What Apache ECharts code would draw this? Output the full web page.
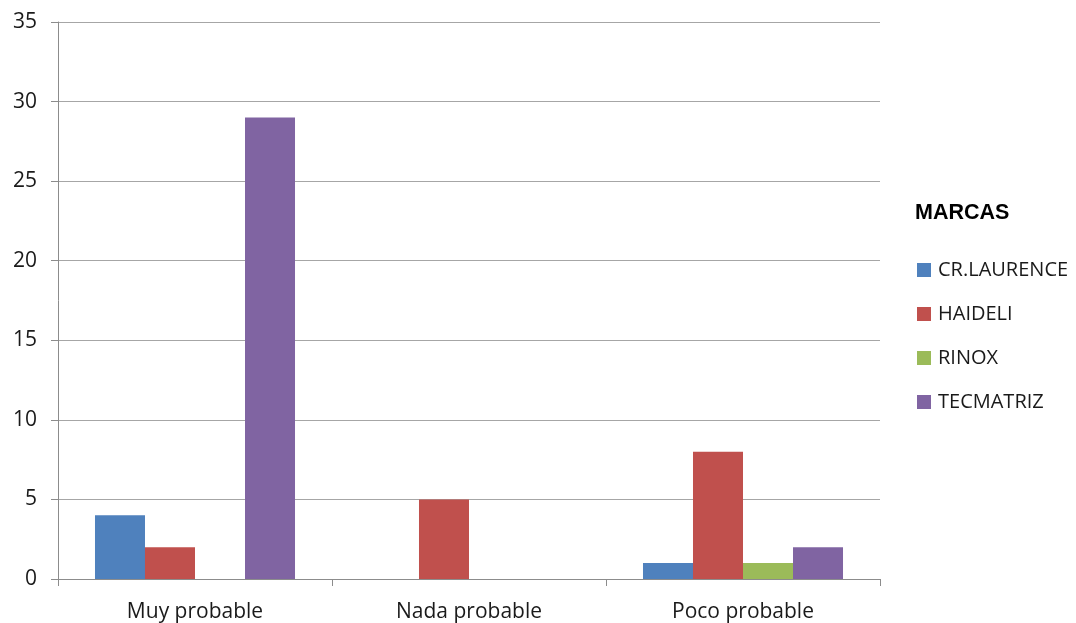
<!DOCTYPE html>
<html>
<head>
<meta charset="utf-8">
<script src="https://cdn.jsdelivr.net/npm/echarts@6/dist/echarts.min.js"></script>
<style>
  html, body { margin: 0; padding: 0; background: #ffffff; }
  #chart { width: 1076px; height: 623px; }
</style>
</head>
<body>
<div id="chart"></div>
<script>
// Categories along the x axis
const categories = ['Muy probable', 'Nada probable', 'Poco probable'];

// One array per brand, in category order
const crLaurence = [4, 0, 1];
const haideli = [2, 5, 8];
const rinox = [0, 0, 1];
const tecmatriz = [29, 0, 2];

const seriesNames = ['CR.LAURENCE', 'HAIDELI', 'RINOX', 'TECMATRIZ'];
const seriesValues = [crLaurence, haideli, rinox, tecmatriz];
const seriesColors = ['#4F81BD', '#C0504D', '#9BBB59', '#8064A2'];

const legendTitle = 'MARCAS';
const fontFamily = '"Open Sans", sans-serif';

const chart = echarts.init(document.getElementById('chart'));

chart.setOption({
  backgroundColor: '#ffffff',
  animation: false,
  title: {
    text: legendTitle,
    left: 915,
    top: 200,
    padding: 0,
    textStyle: { fontFamily: 'Liberation Sans, Arial, sans-serif', fontSize: 21.5, fontWeight: 'bold', color: '#000000', lineHeight: 26 }
  },
  legend: {
    orient: 'vertical',
    left: 912,
    top: 254,
    itemWidth: 14,
    itemHeight: 14,
    itemGap: 22,
    icon: 'rect',
    data: seriesNames,
    textStyle: { fontFamily: fontFamily, fontSize: 20, lineHeight: 22, color: '#1a1a1a', padding: [0, 0, 0, 2] }
  },
  grid: { left: 58, right: 196, top: 22, bottom: 43, containLabel: false },
  xAxis: {
    type: 'category',
    data: categories,
    axisLine: { show: true, lineStyle: { color: '#8c8c8c', width: 1 } },
    axisTick: { show: true, length: 7, alignWithLabel: false, lineStyle: { color: '#8c8c8c' } },
    axisLabel: { margin: 23, fontFamily: fontFamily, fontSize: 21, color: '#1a1a1a' },
    splitLine: { show: false }
  },
  yAxis: {
    type: 'value',
    min: 0,
    max: 35,
    interval: 5,
    axisLine: { show: true, lineStyle: { color: '#8c8c8c', width: 1 } },
    axisTick: { show: true, length: 7, lineStyle: { color: '#8c8c8c' } },
    axisLabel: { margin: 21, fontFamily: fontFamily, fontSize: 21, color: '#1a1a1a' },
    splitLine: { show: true, lineStyle: { color: '#a6a6a6', width: 1 } }
  },
  series: seriesNames.map((name, i) => ({
    name: name,
    type: 'bar',
    data: seriesValues[i],
    itemStyle: { color: seriesColors[i] },
    barGap: '0%',
    barCategoryGap: '27%'
  }))
});
</script>
</body>
</html>
